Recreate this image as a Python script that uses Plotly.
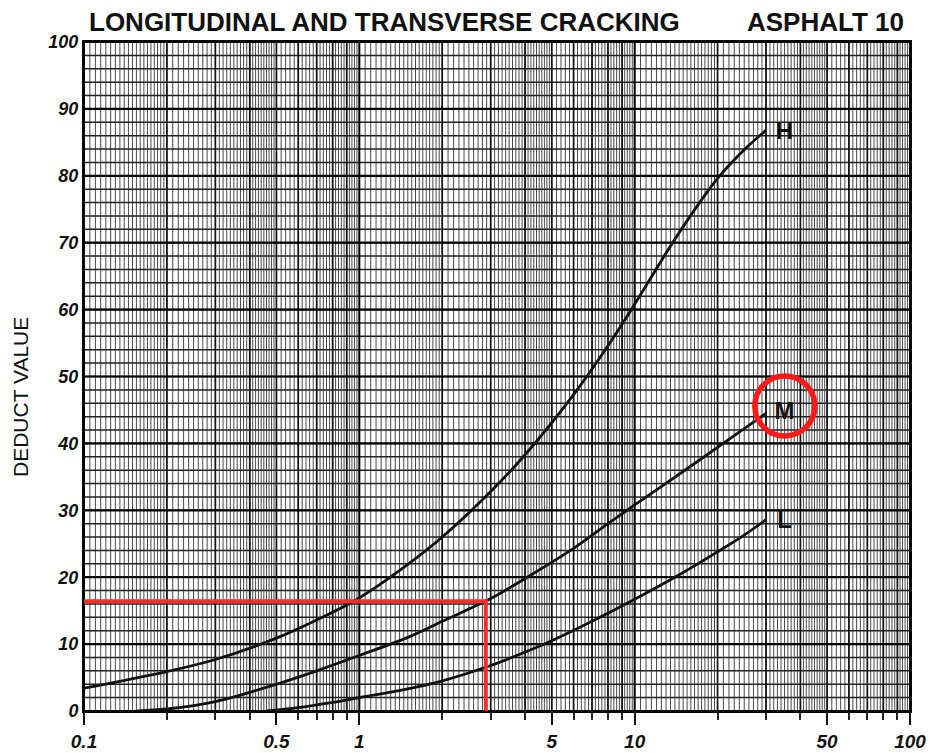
import numpy as np
import plotly.graph_objects as go

# ---- data ----
h_x = [0.1, 0.2, 0.3, 0.5, 0.7, 1, 1.5, 2, 3, 4, 6, 8, 10, 12.5, 15, 20, 25, 30]
h_y = [3.4, 5.9, 7.7, 10.9, 13.6, 16.9, 21.9, 26.0, 32.8, 38.3, 47.3, 54.6, 60.8, 67.3, 72.4, 79.6, 83.9, 86.8]

m_x = [0.156, 0.2, 0.3, 0.5, 0.7, 1, 1.5, 2, 3, 4, 6, 8, 10, 15, 20, 25, 30]
m_y = [0.0, 0.3, 1.4, 4.0, 6.0, 8.3, 11.0, 13.4, 16.8, 19.8, 24.3, 28.0, 30.8, 35.8, 39.4, 42.2, 44.5]

l_x = [0.46, 0.6, 0.8, 1, 1.5, 2, 3, 4, 5, 7, 10, 15, 20, 25, 30]
l_y = [0.0, 0.5, 1.3, 2.0, 3.3, 4.5, 6.8, 8.8, 10.5, 13.4, 16.7, 20.7, 23.8, 26.3, 28.6]

curve_labels = ["H", "M", "L"]
label_x = [35.0, 35.0, 35.0]
label_y = [86.4, 44.5, 28.3]

red_x = [0.1, 2.88, 2.88]
red_y = [16.4, 16.4, 0.0]
circle_x = [35.1]
circle_y = [45.6]

x_tickvals = [0.1, 0.5, 1, 5, 10, 50, 100]
x_ticktext = ["0.1", "0.5", "1", "5", "10", "50", "100"]
y_tickvals = list(range(0, 101, 10))

title_left = "LONGITUDINAL AND TRANSVERSE CRACKING"
title_right = "ASPHALT 10"
y_title = "DEDUCT VALUE"

# ---- grid line positions (graph-paper look) ----
decades = [0.1, 1.0, 10.0]
fine_v = []
for d in decades:
    fine_v += list(d * np.arange(1.0, 2.0, 0.05))
    fine_v += list(d * np.arange(2.0, 5.0, 0.1))
    fine_v += list(d * np.arange(5.0, 10.0, 0.2))
mid_v = [d * k for d in decades for k in range(2, 10)]
major_v = [0.1, 1.0, 10.0, 100.0]
fine_h = list(range(0, 101, 2))
major_h = list(range(0, 101, 10))
minor_ticks = [d * k for d in decades for k in [2, 3, 4, 6, 7, 8, 9]]


def vlines(xs):
    px, py = [], []
    for v in xs:
        px += [v, v, None]
        py += [0, 100, None]
    return px, py


def hlines(ys):
    px, py = [], []
    for v in ys:
        px += [0.1, 100, None]
        py += [v, v, None]
    return px, py


fig = go.Figure()

for (xs, ys), col, w in [
    (vlines(fine_v), "#4a4a4a", 1.0),
    (hlines(fine_h), "#222222", 1.5),
    (vlines(mid_v), "#111111", 1.7),
    (hlines(major_h), "#000000", 2.2),
    (vlines(major_v), "#000000", 2.0),
]:
    fig.add_trace(go.Scatter(x=xs, y=ys, mode="lines", line=dict(color=col, width=w),
                             hoverinfo="skip", showlegend=False))

for xs, ys in [(h_x, h_y), (m_x, m_y), (l_x, l_y)]:
    fig.add_trace(go.Scatter(x=xs, y=ys, mode="lines",
                             line=dict(color="#111111", width=2.8, shape="spline", smoothing=1.0),
                             showlegend=False))

fig.add_trace(go.Scatter(x=label_x, y=label_y, mode="text", text=curve_labels,
                         textfont=dict(family="Liberation Sans", size=24, color="#111111", weight="bold"),
                         showlegend=False))

fig.add_trace(go.Scatter(x=red_x, y=red_y, mode="lines", line=dict(color="#ff2a2a", width=4),
                         showlegend=False))
fig.add_trace(go.Scatter(x=circle_x, y=circle_y, mode="markers",
                         marker=dict(symbol="circle-open", size=60, color="#ff1a1a",
                                     line=dict(width=5.5, color="#ff1a1a")),
                         showlegend=False))

tickfont = dict(family="Liberation Sans", size=19, color="#111111", weight="bold", style="italic")

fig.update_layout(
    width=934, height=753,
    margin=dict(l=84, r=24, t=42, b=42),
    paper_bgcolor="white", plot_bgcolor="white",
    xaxis=dict(type="log", range=[-1, 2], tickvals=x_tickvals, ticktext=x_ticktext,
               automargin=False,
               showgrid=False, zeroline=False, ticks="outside", ticklen=12, tickwidth=2,
               tickcolor="#111", tickfont=tickfont, showline=True, linecolor="#000",
               linewidth=2, mirror=True,
               minor=dict(tickvals=minor_ticks, ticks="outside", ticklen=7, tickwidth=1.5,
                          tickcolor="#222", showgrid=False)),
    yaxis=dict(range=[0, 100], tickvals=y_tickvals, showgrid=False, zeroline=False,
               automargin=False,
               ticks="", tickfont=dict(family="Liberation Sans", size=18, color="#111111",
                                       weight="bold", style="italic"),
               showline=True, linecolor="#000", linewidth=2, mirror=True),
    annotations=[
        dict(text=title_left, xref="paper", yref="paper", x=0.004, y=1.0, xanchor="left",
             yanchor="bottom", yshift=3, showarrow=False,
             font=dict(family="Liberation Sans", size=26, color="#111", weight="bold")),
        dict(text=title_right, xref="paper", yref="paper", x=0.8, y=1.0, xanchor="left",
             yanchor="bottom", yshift=3, showarrow=False,
             font=dict(family="Liberation Sans", size=26, color="#111", weight="bold")),
        dict(text=y_title, xref="paper", yref="paper", x=-0.077, y=0.47, textangle=-90,
             xanchor="center", yanchor="middle", showarrow=False,
             font=dict(family="Liberation Sans", size=21, color="#111")),
    ],
)

fig.write_html("out.html")
